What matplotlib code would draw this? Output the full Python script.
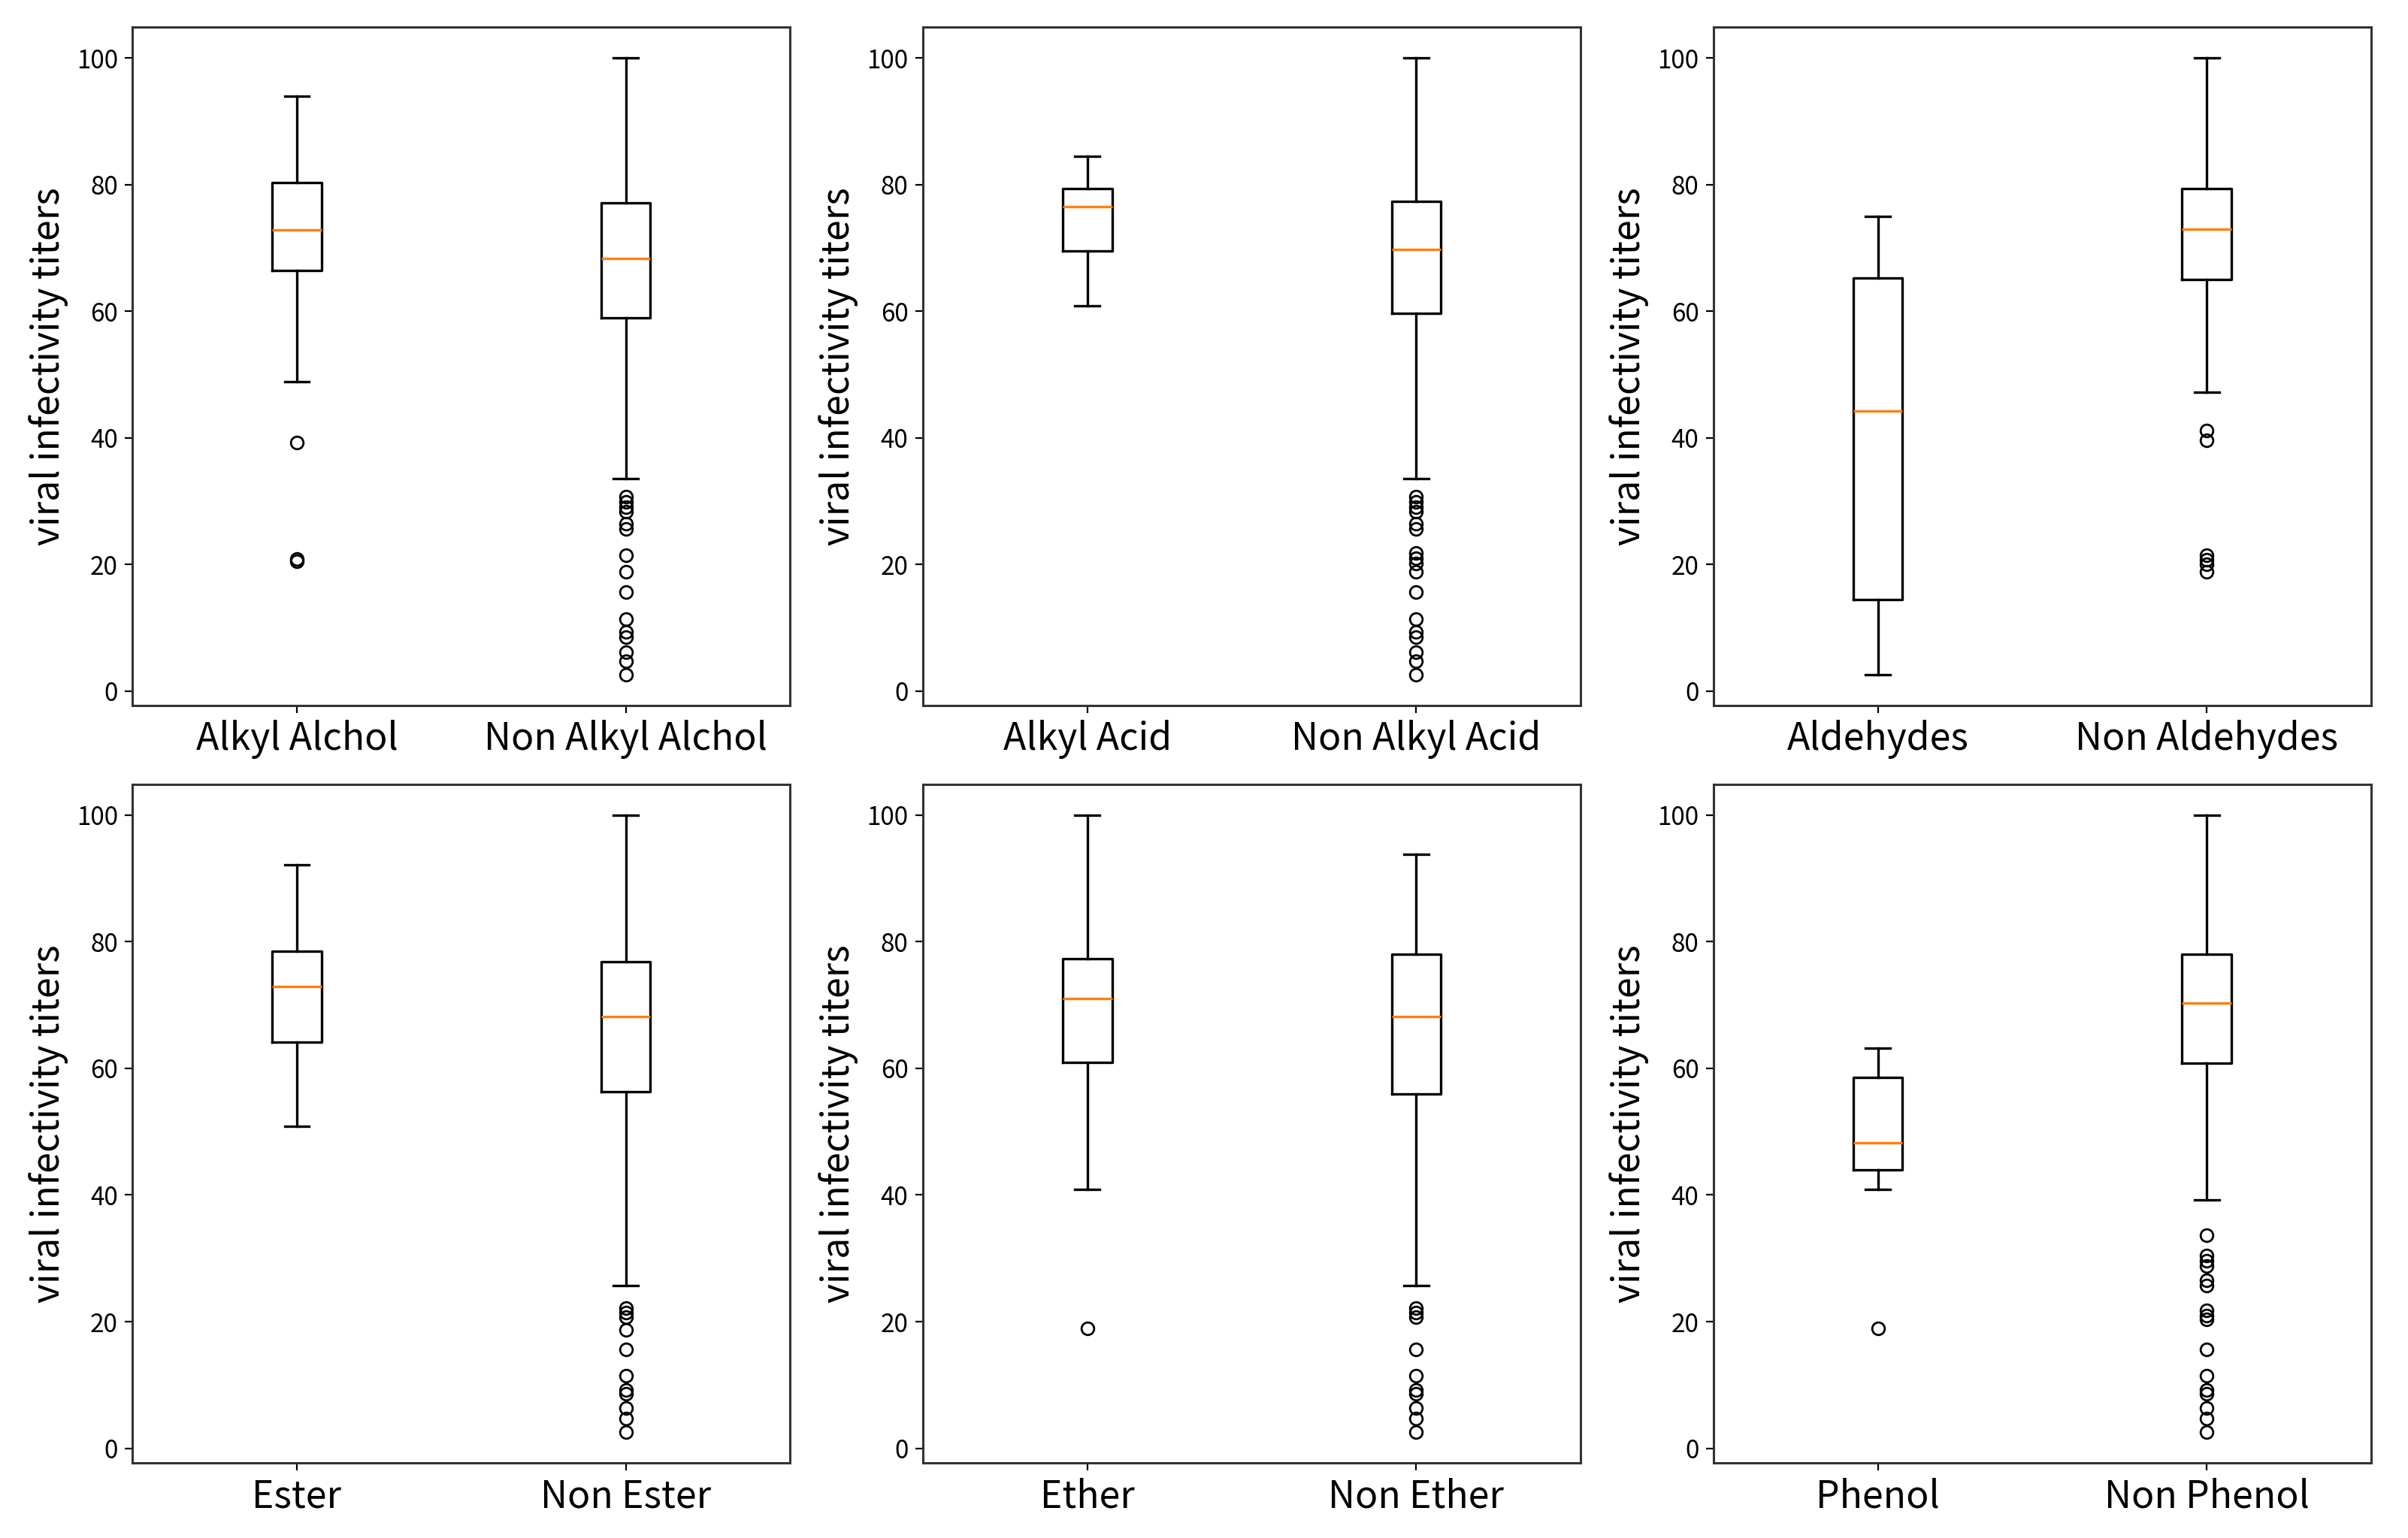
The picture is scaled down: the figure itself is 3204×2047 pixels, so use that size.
import matplotlib
matplotlib.use('Agg')
import matplotlib.pyplot as plt

plt.rcParams['font.family'] = ['Noto Sans CJK JP', 'DejaVu Sans']

# box statistics (one pair per panel)
labels = [['Alkyl Alchol', 'Non Alkyl Alchol'],
          ['Alkyl Acid', 'Non Alkyl Acid'],
          ['Aldehydes', 'Non Aldehydes'],
          ['Ester', 'Non Ester'],
          ['Ether', 'Non Ether'],
          ['Phenol', 'Non Phenol']]

whislo = [[48.9, 33.6], [60.8, 33.6], [2.6, 47.2],
          [50.9, 25.7], [40.9, 25.7], [40.9, 39.2]]
q1 = [[66.4, 59.0], [69.5, 59.7], [14.5, 65.0],
      [64.1, 56.3], [60.9, 56.0], [44.0, 60.8]]
med = [[72.8, 68.3], [76.5, 69.7], [44.3, 73.0],
       [72.9, 68.2], [71.0, 68.2], [48.2, 70.3]]
q3 = [[80.3, 77.1], [79.4, 77.3], [65.2, 79.4],
      [78.5, 76.8], [77.3, 78.0], [58.6, 78.0]]
whishi = [[93.9, 100.0], [84.5, 100.0], [75.0, 100.0],
          [92.2, 100.0], [100.0, 93.8], [63.2, 100.0]]

fliers = [
    [[39.2, 20.9, 20.5],
     [30.7, 29.9, 29.1, 28.4, 26.4, 25.6, 21.5, 18.9, 15.7, 11.4, 9.3, 8.5, 6.2, 4.7, 2.6]],
    [[],
     [30.7, 29.9, 29.1, 28.4, 26.4, 25.6, 21.8, 21.0, 20.2, 18.9, 15.7, 11.4, 9.3, 8.5, 6.2, 4.7, 2.6]],
    [[],
     [41.2, 39.6, 21.5, 20.7, 20.0, 18.9]],
    [[],
     [22.1, 21.4, 20.7, 18.7, 15.6, 11.5, 9.2, 8.6, 6.3, 4.7, 2.6]],
    [[18.9],
     [22.1, 21.4, 20.7, 15.6, 11.5, 9.2, 8.6, 6.3, 4.7, 2.6]],
    [[18.9],
     [33.6, 30.4, 29.6, 28.8, 26.5, 25.7, 21.8, 21.0, 20.4, 15.6, 11.5, 9.2, 8.6, 6.3, 4.7, 2.6]],
]

ylabel = 'viral infectivity titers'

fig, axes = plt.subplots(2, 3, figsize=(16.02, 10.235), dpi=200)
fig.subplots_adjust(left=0.055, right=0.9847, bottom=0.049, top=0.9824,
                    wspace=0.202, hspace=0.116)

for i, ax in enumerate(axes.flat):
    stats = []
    for j in range(2):
        stats.append({'label': labels[i][j], 'whislo': whislo[i][j], 'q1': q1[i][j],
                      'med': med[i][j], 'q3': q3[i][j], 'whishi': whishi[i][j],
                      'fliers': fliers[i][j]})
    ax.bxp(stats, medianprops={'color': '#ff7f0e', 'linewidth': 1.2},
           boxprops={'linewidth': 1.2}, whiskerprops={'linewidth': 1.2},
           capprops={'linewidth': 1.2},
           flierprops={'marker': 'o', 'markersize': 6, 'markerfacecolor': 'none',
                       'markeredgecolor': 'black', 'markeredgewidth': 1.0})
    ax.set_ylabel(ylabel, fontsize=18)
    ax.tick_params(axis='x', labelsize=18)
    ax.tick_params(axis='y', labelsize=12)
    ax.set_yticks([0, 20, 40, 60, 80, 100])
    for s in ax.spines.values():
        s.set_color('#333333')
        s.set_linewidth(1.1)

fig.savefig('out.png', dpi=200)
